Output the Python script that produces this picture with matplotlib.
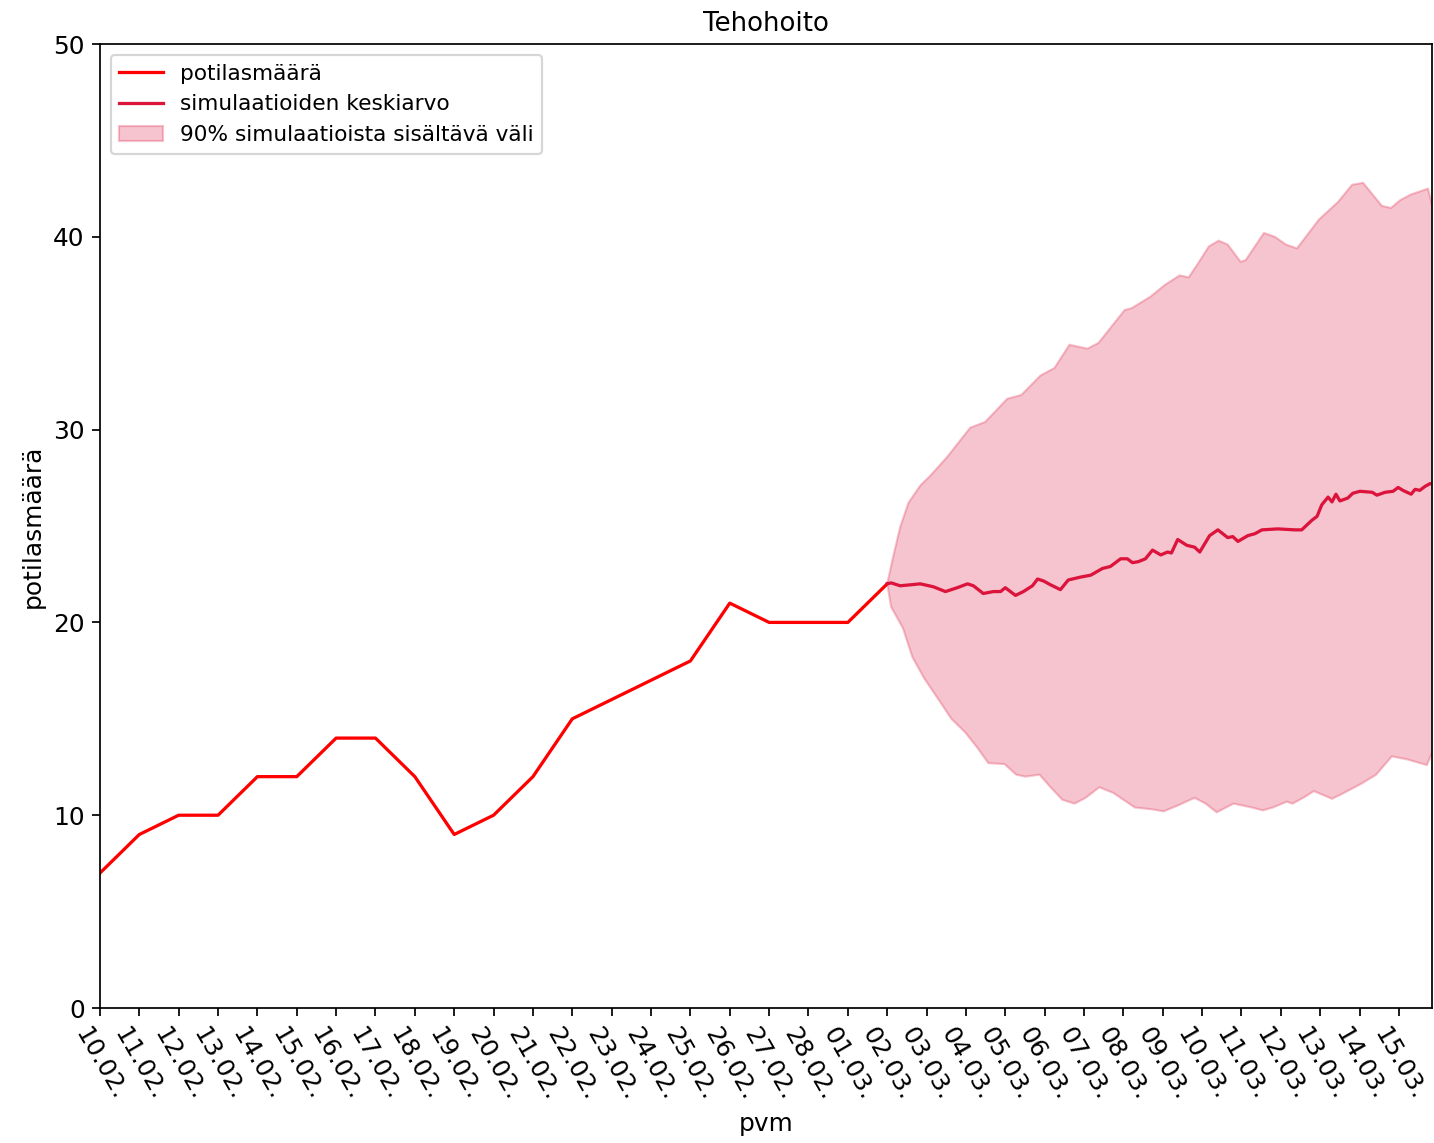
import numpy as np
import matplotlib
matplotlib.use("Agg")
import matplotlib.pyplot as plt

# ---- data ----
date_labels = ["10.02.", "11.02.", "12.02.", "13.02.", "14.02.", "15.02.", "16.02.",
               "17.02.", "18.02.", "19.02.", "20.02.", "21.02.", "22.02.", "23.02.",
               "24.02.", "25.02.", "26.02.", "27.02.", "28.02.", "01.03.", "02.03.",
               "03.03.", "04.03.", "05.03.", "06.03.", "07.03.", "08.03.", "09.03.",
               "10.03.", "11.03.", "12.03.", "13.03.", "14.03.", "15.03."]

observed = [7, 9, 10, 10, 12, 12, 14, 14, 12, 9, 10, 12, 15, 16, 17, 18, 21, 20, 20, 20, 22]

mean_days = [20.00, 20.10, 20.33, 20.59, 20.84, 21.17, 21.48, 21.78, 22.04, 22.19, 22.44,
             22.70, 22.88, 23.00, 23.26, 23.46, 23.69, 23.82, 23.97, 24.15, 24.40, 24.60,
             24.91, 25.17, 25.47, 25.67, 25.93, 26.10, 26.23, 26.38, 26.56, 26.74, 26.95,
             27.12, 27.22, 27.38, 27.61, 27.81, 27.94, 28.19, 28.40, 28.65, 28.78, 28.91,
             29.16, 29.34, 29.52, 29.92, 30.36, 30.53, 30.79, 30.92, 31.04, 31.20, 31.30,
             31.40, 31.50, 31.70, 31.83, 32.01, 32.32, 32.44, 32.65, 32.85, 32.98, 33.10,
             33.31, 33.41, 33.53, 33.66, 33.79, 33.92]
mean_vals = [22.0, 22.05, 21.9, 21.95, 22.0, 21.85, 21.6, 21.8, 22.0, 21.9, 21.5,
             21.6, 21.6, 21.8, 21.4, 21.6, 21.9, 22.25, 22.15, 21.95, 21.7, 22.2,
             22.35, 22.45, 22.8, 22.9, 23.3, 23.3, 23.1, 23.15, 23.3, 23.75, 23.5,
             23.65, 23.6, 24.3, 24.0, 23.9, 23.65, 24.5, 24.8, 24.4, 24.45, 24.2,
             24.5, 24.6, 24.8, 24.85, 24.8, 24.8, 25.3, 25.5, 26.1, 26.5, 26.25,
             26.65, 26.3, 26.45, 26.7, 26.8, 26.75, 26.6, 26.75, 26.8, 27.0, 26.85,
             26.65, 26.9, 26.85, 27.05, 27.2, 27.15]

upper_days = [20.00, 20.15, 20.33, 20.54, 20.84, 21.09, 21.53, 21.80, 22.11, 22.49, 23.05,
              23.41, 23.89, 24.25, 24.63, 25.09, 25.37, 26.03, 26.21, 26.69, 27.05, 27.43,
              27.66, 27.89, 28.17, 28.42, 28.65, 28.98, 29.11, 29.57, 29.85, 30.13, 30.41,
              30.97, 31.45, 31.81, 32.09, 32.57, 32.80, 33.03, 33.31, 33.74, 33.92]
upper_vals = [22.0, 23.4, 24.95, 26.2, 27.1, 27.6, 28.6, 29.3, 30.1, 30.4, 31.6,
              31.8, 32.8, 33.2, 34.4, 34.2, 34.5, 36.2, 36.3, 36.9, 37.5, 38.0,
              37.9, 38.6, 39.5, 39.8, 39.6, 38.7, 38.8, 40.2, 40.0, 39.6, 39.4,
              40.9, 41.8, 42.7, 42.8, 41.6, 41.5, 41.9, 42.2, 42.5, 41.0]

lower_days = [20.00, 20.10, 20.40, 20.64, 20.94, 21.27, 21.63, 21.98, 22.29, 22.57, 22.98,
              23.28, 23.51, 23.87, 24.15, 24.45, 24.76, 25.04, 25.39, 25.75, 26.29, 26.74,
              27.02, 27.38, 27.81, 28.09, 28.37, 28.80, 29.26, 29.54, 29.80, 30.15, 30.30,
              30.61, 30.84, 31.30, 31.60, 32.06, 32.42, 32.82, 33.20, 33.71, 33.92]
lower_vals = [22.0, 20.8, 19.7, 18.2, 17.1, 16.1, 15.0, 14.3, 13.5, 12.7, 12.65,
              12.1, 12.0, 12.1, 11.45, 10.8, 10.6, 10.9, 11.45, 11.15, 10.4, 10.3,
              10.2, 10.5, 10.9, 10.6, 10.15, 10.6, 10.4, 10.25, 10.4, 10.7, 10.6,
              10.95, 11.25, 10.85, 11.15, 11.65, 12.1, 13.05, 12.9, 12.6, 13.6]

# ---- figure ----
DPI = 156
fig = plt.figure(figsize=(1434 / DPI, 1143 / DPI), dpi=DPI)
ax = fig.add_axes([0.0697, 0.1181, 0.9289, 0.8434])

obs_days = np.arange(len(observed))
h1, = ax.plot(obs_days, observed, color="red", label="potilasmäärä")

poly_x = np.concatenate([upper_days, lower_days[::-1]])
poly_y = np.concatenate([upper_vals, lower_vals[::-1]])
h3 = ax.fill(poly_x, poly_y, color="crimson", alpha=0.25, lw=1,
             label="90% simulaatioista sisältävä väli")[0]
h2, = ax.plot(mean_days, mean_vals, color="crimson", label="simulaatioiden keskiarvo")

ax.set_xlim(0, 33.84)
ax.set_ylim(0, 50)
ax.set_xticks(np.arange(len(date_labels)))
ax.set_xticklabels(date_labels, rotation=-60)
ax.set_yticks([0, 10, 20, 30, 40, 50])
ax.tick_params(axis="both", labelsize=11.5)

ax.set_title("Tehohoito", fontsize=12)
ax.set_xlabel("pvm", fontsize=11.5)
ax.set_ylabel("potilasmäärä", fontsize=11.5)
ax.legend(handles=[h1, h2, h3], loc="upper left", fontsize=10)

fig.savefig("out.png", dpi=DPI)
